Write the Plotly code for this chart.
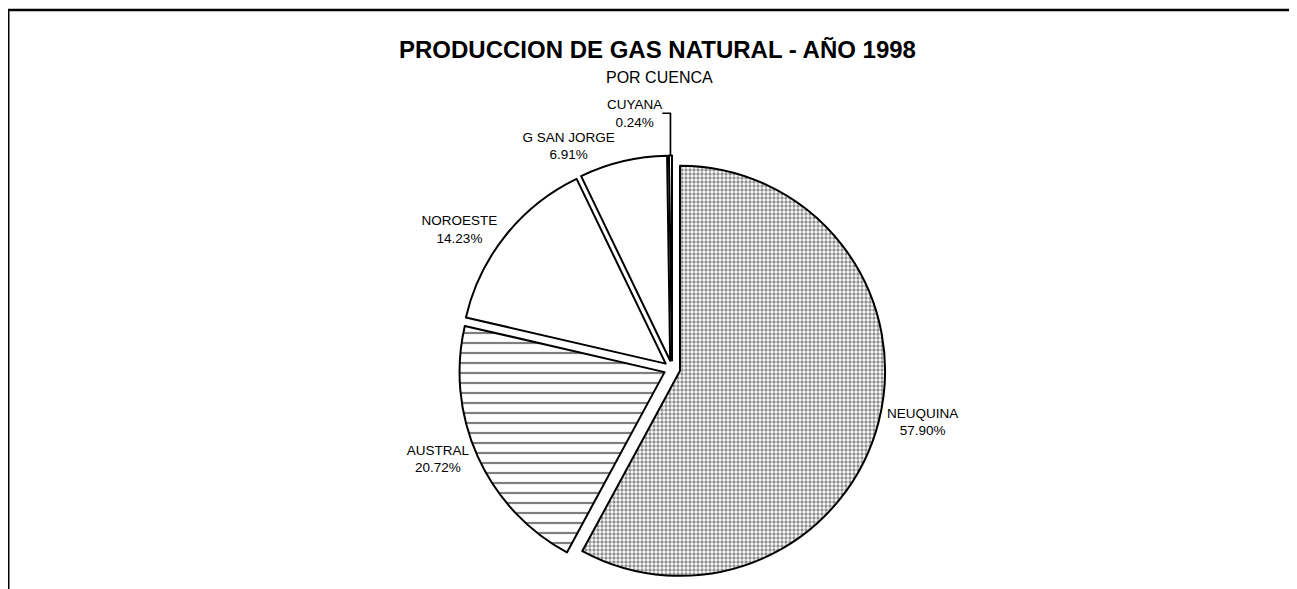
import plotly.graph_objects as go

cuencas = ["NEUQUINA", "AUSTRAL", "NOROESTE", "G SAN JORGE", "CUYANA"]
porcentajes = [57.90, 20.72, 14.23, 6.91, 0.24]
titulo = "PRODUCCION DE GAS NATURAL - AÑO 1998"
subtitulo = "POR CUENCA"

FONT = "Liberation Sans, Arial"

fig = go.Figure()
fig.add_trace(go.Pie(
    labels=cuencas,
    values=porcentajes,
    sort=False,
    direction="clockwise",
    rotation=0,
    pull=[0.04] * len(cuencas),
    textposition="outside",
    texttemplate="%{label}<br>%{value:.2f}%",
    textfont=dict(family=FONT, size=13.5, color="black"),
    marker=dict(
        colors=["white"] * len(cuencas),
        line=dict(color="black", width=2),
        pattern=dict(
            shape=[".", "-", "", "", ""],
            fgcolor=["#222222", "black", "black", "black", "black"],
            bgcolor=["white"] * len(cuencas),
            size=[4, 10, 8, 8, 8],
            solidity=[0.55, 0.22, 0.2, 0.2, 0.2],
            fillmode="overlay",
        ),
    ),
    domain=dict(x=[0.3470, 0.6770], y=[0.0221, 0.7487]),
    showlegend=False,
    hoverinfo="label+percent",
))

fig.add_annotation(text="<b>" + titulo + "</b>", x=0.5004, y=1 - 42 / 589, xref="paper", yref="paper",
                   showarrow=False, font=dict(family=FONT, size=24, color="black"),
                   xanchor="center", yanchor="middle")
fig.add_annotation(text=subtitulo, x=0.502, y=1 - 70 / 589, xref="paper", yref="paper",
                   showarrow=False, font=dict(family=FONT, size=16, color="black"),
                   xanchor="center", yanchor="middle")

# frame lines (scan border)
fig.add_shape(type="line", xref="paper", yref="paper", x0=0, x1=1, y0=1 - 2 / 589, y1=1 - 2 / 589,
              line=dict(color="black", width=2.5))
fig.add_shape(type="line", xref="paper", yref="paper", x0=0, x1=0, y0=0, y1=1 - 2 / 589,
              line=dict(color="black", width=3))

fig.update_layout(
    width=1297, height=589,
    margin=dict(l=0, r=0, t=0, b=0),
    paper_bgcolor="white", plot_bgcolor="white",
)
fig.write_html("out.html")
